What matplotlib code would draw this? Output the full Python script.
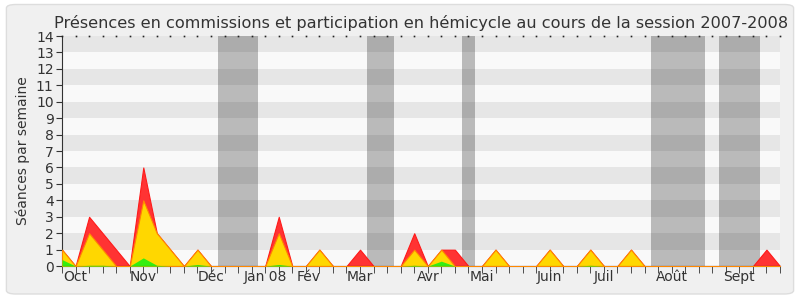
import numpy as np
import matplotlib
matplotlib.use('Agg')
import matplotlib.pyplot as plt
from matplotlib.patches import FancyBboxPatch

# one value per week of the session, week 0 = end of Sept 2007
weeks = list(range(54))
total = [1, 0, 3, 2, 1, 0, 6, 2, 1, 0, 1, 0, 0, 0, 0, 0, 3, 0, 0, 1,
         0, 0, 1, 0, 0, 0, 2, 0, 1, 1, 0, 0, 1, 0, 0, 0, 1, 0, 0, 1,
         0, 0, 1, 0, 0, 0, 0, 0, 0, 0, 0, 0, 1, 0]
hemicycle = [1, 0, 2, 1, 0, 0, 4, 2, 1, 0, 1, 0, 0, 0, 0, 0, 2, 0, 0, 1,
             0, 0, 0, 0, 0, 0, 1, 0, 1, 0, 0, 0, 1, 0, 0, 0, 1, 0, 0, 1,
             0, 0, 1, 0, 0, 0, 0, 0, 0, 0, 0, 0, 0, 0]
commission = [0.4, 0, 0.05, 0.05, 0, 0, 0.5, 0.05, 0, 0, 0.1, 0, 0, 0, 0, 0, 0.1, 0, 0, 0,
              0, 0, 0, 0, 0, 0, 0.05, 0, 0.3, 0, 0, 0, 0, 0, 0, 0, 0, 0, 0, 0.05,
              0, 0, 0, 0, 0, 0, 0, 0, 0, 0, 0, 0, 0, 0]

# vacances parlementaires (en semaines)
vacances = [(11.5, 14.5), (22.5, 24.5), (29.5, 30.5), (43.5, 47.5), (48.5, 51.5)]

mois_pos = [1, 6, 11, 15, 18.2, 22, 27, 31, 36, 40, 45, 50]
mois = ['Oct', 'Nov', 'Déc', 'Jan 08', 'Fév', 'Mar', 'Avr', 'Mai', 'Juin', 'Juil', 'Août', 'Sept']

fig = plt.figure(figsize=(8, 3), dpi=100)
fig.patch.set_facecolor('white')
frame = FancyBboxPatch((0.008, 0.02), 0.984, 0.965, boxstyle='round,pad=0,rounding_size=0.012',
                       transform=fig.transFigure, facecolor='#f0f0f0', edgecolor='#dddddd',
                       lw=1, zorder=-10)
fig.patches.append(frame)

ax = fig.add_axes([0.0775, 0.113, 0.8975, 0.767])
ax.set_facecolor('#f9f9f9')

for y in range(1, 14, 2):
    ax.axhspan(y, y + 1, color='#e6e6e6', lw=0, zorder=0)
for a, b in vacances:
    ax.axvspan(a, b, color='black', alpha=0.25, lw=0, zorder=1)

ax.fill_between(weeks, total, color='#ff3333', edgecolor='#ff1a1a', lw=0.8, zorder=2)
ax.fill_between(weeks, hemicycle, color='#ffd700', edgecolor='#ff8800', lw=0.8, zorder=3)
ax.fill_between(weeks, commission, color='#33ee11', lw=0, zorder=4)
ax.axhline(0, color='#7a2a2a', lw=0.8, zorder=5)

# petits points en haut
ax.plot(weeks, [14] * len(weeks), ls='none', marker='s', ms=1.2, mew=0, color='#222222',
        clip_on=False, zorder=6)

ax.set_xlim(0, 53)
ax.set_ylim(0, 14)
ax.set_yticks(range(15))
ax.xaxis.remove_overlapping_locs = False
ax.set_xticks(mois_pos)
ax.set_xticklabels(mois)
ax.set_xticks(weeks, minor=True)
ax.tick_params(axis='x', which='minor', length=5, color='#333333', direction='out')
ax.tick_params(axis='x', which='major', length=0, pad=3, labelsize=10, labelcolor='#333333')
ax.tick_params(axis='y', length=4, color='#333333', labelsize=10, labelcolor='#333333', pad=2)

for s in ['top', 'right']:
    ax.spines[s].set_visible(False)
ax.spines['left'].set_color('#333333')
ax.spines['bottom'].set_color('#333333')

ax.set_ylabel('Séances par semaine', fontsize=10, color='#333333', labelpad=4)
ax.set_title('Présences en commissions et participation en hémicycle au cours de la session 2007-2008',
             fontsize=11.6, color='#333333', pad=6)

fig.savefig('out.png', dpi=100, facecolor=fig.get_facecolor())
